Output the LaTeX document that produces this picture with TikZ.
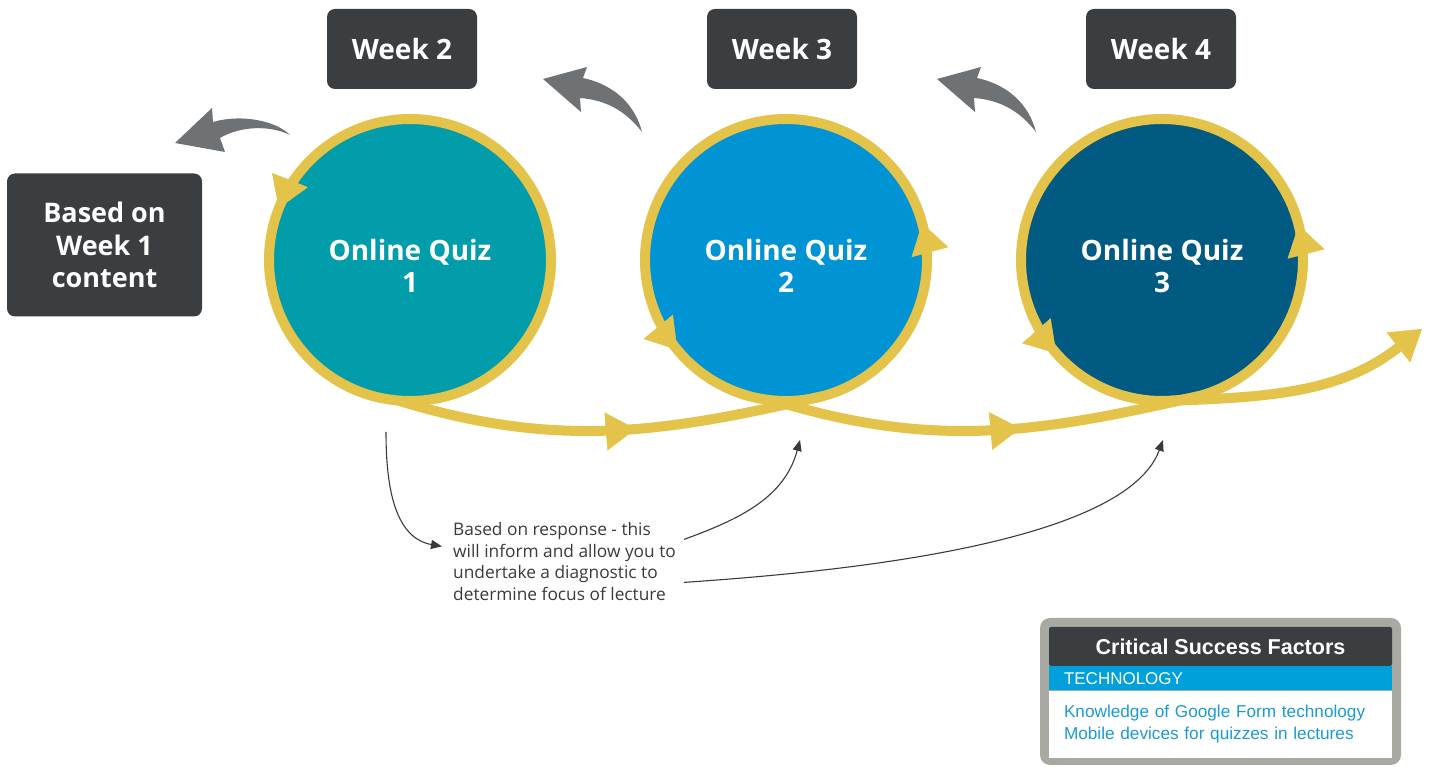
\documentclass[tikz,border=0pt]{standalone}
\usepackage{fontspec}
\setmainfont{Open Sans}
\newfontfamily\csffont{Liberation Sans}
\usetikzlibrary{arrows.meta,positioning,decorations.markings}

\definecolor{boxgrey}{RGB}{59,62,64}
\definecolor{swoosh}{RGB}{111,114,116}
\definecolor{loopgold}{RGB}{227,195,74}
\definecolor{quizteal}{RGB}{1,157,171}
\definecolor{quizblue}{RGB}{0,148,213}
\definecolor{quiznavy}{RGB}{0,90,130}
\definecolor{notegrey}{RGB}{58,58,58}
\definecolor{framegrey}{RGB}{168,170,162}
\definecolor{bandblue}{RGB}{0,160,220}
\definecolor{itemblue}{RGB}{27,154,214}

\begin{document}
\begin{tikzpicture}[
  x=1pt, y=1pt,
  weekbox/.style={fill=boxgrey,rounded corners=8pt,minimum width=150pt,minimum height=80pt,
                  text=white,font=\fontsize{28}{32}\selectfont\bfseries},
  startbox/.style={weekbox,minimum width=195pt,minimum height=143pt,align=center,
                   font=\fontsize{27}{32.5}\selectfont\bfseries},
  quiz/.style={circle,minimum size=282pt,inner sep=0pt,outer sep=0pt,align=center,
               text=white,font=\fontsize{28}{32}\selectfont\bfseries},
  ring/.style={draw=loopgold,line width=10pt},
  flow/.style={draw=loopgold,line width=10pt},
  bigtip/.tip={Triangle[length=30pt,width=38pt,line width=0.5pt]},
  midtip/.style={postaction={decorate},
                 decoration={markings,mark=at position #1 with {\arrow{bigtip}}}},
  hint/.style={draw=notegrey,line width=1.1pt,-{Triangle[length=11pt,width=9pt]}},
  csfframe/.style={fill=framegrey,rounded corners=10pt,minimum width=361pt,minimum height=147pt},
  csfhead/.style={fill=boxgrey,rounded corners=2pt,minimum width=343pt,minimum height=39pt,
                  text=white,font=\csffont\fontsize{21.5}{24}\selectfont\bfseries},
  csfband/.style={fill=bandblue,text width=313pt,inner xsep=15pt,inner ysep=0pt,
                  minimum height=24pt,align=left,text=white,
                  font=\csffont\fontsize{17}{20}\selectfont},
  csfbody/.style={fill=white,text width=313pt,inner xsep=15pt,inner ysep=0pt,
                  minimum height=67pt,align=left,text=itemblue,
                  font=\csffont\fontsize{17.2}{22}\selectfont}
]
\useasboundingbox (0,0) rectangle (1435,767);

% week labels
\node[startbox] (wk1) at (104.5,522) {Based on\\Week 1\\content};
\node[weekbox] (wk2) at (402,718) {Week 2};
\node[weekbox] (wk3) at (782,718) {Week 3};
\node[weekbox] (wk4) at (1161,718) {Week 4};

% back-pointing swooshes
\fill[swoosh] (175,624) -- (212,659) -- (213,645) .. controls (240,653) and (275,647) .. (290,632)
  .. controls (270,642) and (240,641) .. (220,629) -- (225,615) -- cycle;
\foreach \dx in {0,394}
  \fill[swoosh,xshift=\dx] (543,688) -- (587,700) -- (583,689) .. controls (615,682) and (635,662) .. (642,635)
    .. controls (625,657) and (605,667) .. (580,669) -- (581,655) -- cycle;

% quizzes (the rule pushes the two lines a little below centre)
\node[quiz,fill=quizteal] (q1) at (410,507) {\rule{0pt}{33pt}Online Quiz\\1};
\node[quiz,fill=quizblue] (q2) at (786,507) {\rule{0pt}{33pt}Online Quiz\\2};
\node[quiz,fill=quiznavy] (q3) at (1162,507) {\rule{0pt}{33pt}Online Quiz\\3};

% loops round each quiz
\foreach \q/\pa/\pb in {q1/0.44/0.44, q2/0.042/0.61, q3/0.04/0.615}
  \draw[ring,postaction={decorate},decoration={markings,
        mark=at position \pa with {\arrow{bigtip}},
        mark=at position \pb with {\arrow{bigtip}}}]
    (\q.center) circle[radius=141];

% path from quiz to quiz
\coordinate (fin) at (1422,438);
\draw[flow,midtip=0.56] (q1.265) to[out=-17,in=193] (q2.285);
\draw[flow,midtip=0.58] (q2.265) to[out=-17,in=193] (q3.285);
\draw[flow,-{bigtip}] (q3.272) to[out=2,in=218] (fin);

% feedback note
\node[anchor=north west,align=left,inner sep=0pt,text=notegrey,
      font=\fontsize{17.3}{21.7}\selectfont] (note) at (453,245)
  {Based on response - this\\will inform and allow you to\\undertake a diagnostic to\\determine focus of lecture};
\coordinate (fb1) at (386,335);
\draw[hint] (fb1) to[out=-90,in=170] ([shift={(-11,15)}]note.west);
\draw[hint] ([shift={(8,22)}]note.east) to[out=20,in=-105] ([shift={(14,-39)}]q2.south);
\draw[hint] ([shift={(8,-21)}]note.east) to[out=4,in=-110,looseness=0.6] ([shift={(1,-39)}]q3.south);

% success factors panel
\node[csfframe] (csf) at (1220.5,75.5) {};
\node[csfhead,anchor=north] (hdr) at ([yshift=-9pt]csf.north) {Critical Success Factors};
\node[csfband,below=0pt of hdr] (band) {TECHNOLOGY};
\node[csfbody,below=0pt of band] (body)
  {Knowledge of Google Form technology\\Mobile devices for quizzes in lectures};
\end{tikzpicture}
\end{document}
